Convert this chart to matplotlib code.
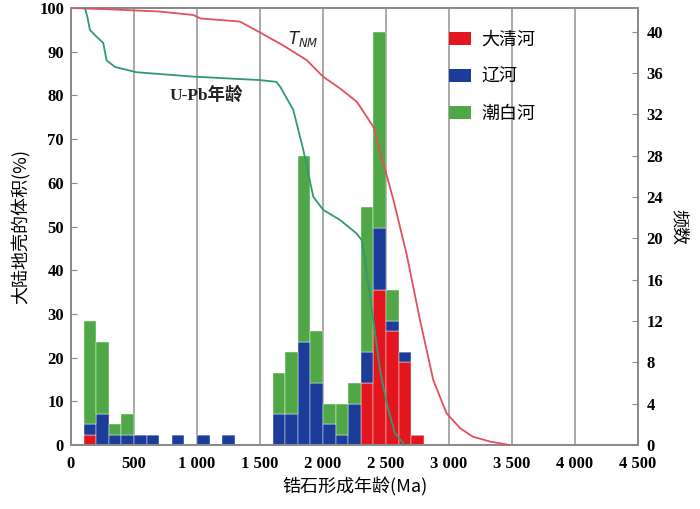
import matplotlib
matplotlib.use("Agg")
import matplotlib.pyplot as plt
from matplotlib.patches import Patch

# ---------------- data ----------------
bin_left = [100, 200, 300, 400, 500, 600, 800, 1000, 1200, 1600, 1700, 1800,
            1900, 2000, 2100, 2200, 2300, 2400, 2500, 2600, 2700]
daqing  = [1, 0, 0, 0, 0, 0, 0, 0, 0, 0, 0, 0, 0, 0, 0, 0, 6, 15, 11, 8, 1]
liao    = [1, 3, 1, 1, 1, 1, 1, 1, 1, 3, 3, 10, 6, 2, 1, 4, 3, 6, 1, 1, 0]
chaobai = [10, 7, 1, 2, 0, 0, 0, 0, 0, 4, 6, 18, 5, 2, 3, 2, 14, 19, 3, 0, 0]
series_names = ["大清河", "辽河", "潮白河"]

tnm_age = [0, 300, 700, 970, 1030, 1340, 1500, 1680, 1870, 2000, 2135, 2270,
           2400, 2480, 2560, 2665, 2770, 2875, 2980, 3090, 3190, 3325, 3480]
tnm_pct = [100, 99.7, 99.2, 98.4, 97.6, 96.9, 94.4, 91.5, 88.1, 84.3, 81.6, 78.5,
           72.8, 64.4, 56.0, 43.5, 28.6, 14.9, 7.3, 3.8, 1.9, 0.8, 0]

upb_age = [110, 130, 150, 200, 256, 283, 350, 520, 970, 1500, 1630, 1660, 1764,
           1844, 1923, 2002, 2135, 2267, 2307, 2347, 2400, 2452, 2506, 2571, 2650]
upb_pct = [100, 98, 95, 93.5, 92, 88, 86.5, 85.3, 84.3, 83.5, 83.1, 82, 76.7,
           67.5, 56.8, 53.8, 51.5, 48.4, 46.9, 39.3, 28.6, 17.2, 9.5, 2.7, 0]

xticks = [0, 500, 1000, 1500, 2000, 2500, 3000, 3500, 4000, 4500]
xticklabels = ["0", "500", "1 000", "1 500", "2 000", "2 500", "3 000", "3 500", "4 000", "4 500"]
lticks = list(range(0, 101, 10))
rticks = list(range(0, 41, 4))

# ---------------- style ----------------
c_red, c_blue, c_green = "#e3151f", "#1b3c98", "#4fa845"
c_line_red, c_line_green = "#e2505c", "#2f9a72"
spine_c = "#8a8a8a"
num_font = dict(family=["Liberation Serif", "DejaVu Serif"], size=12, weight="bold")
cjk = ["Noto Sans CJK SC", "DejaVu Sans"]
mixed = ["Liberation Serif", "Noto Sans CJK SC"]

fig = plt.figure(figsize=(7.0, 5.09), dpi=100)
ax2 = fig.add_axes([0.1014, 0.1257, 0.8100, 0.8586])   # bars (right axis)
ax = fig.add_axes(ax2.get_position(), sharex=ax2)        # lines (left axis) on top
ax.patch.set_visible(False)

# grid (behind bars)
for xv in xticks[1:-1]:
    ax2.axvline(xv, color="#a8a8a8", lw=1.4, zorder=0)

# stacked bars
bot2 = [a + b for a, b in zip(daqing, liao)]
kw = dict(width=100, align="edge", edgecolor="#ffffff", linewidth=0.3, zorder=2)
ax2.bar(bin_left, daqing, color=c_red, **kw)
ax2.bar(bin_left, liao, bottom=daqing, color=c_blue, **kw)
ax2.bar(bin_left, chaobai, bottom=bot2, color=c_green, **kw)

# lines
ax.plot(tnm_age, tnm_pct, color=c_line_red, lw=1.3, zorder=3)
ax.plot(upb_age, upb_pct, color=c_line_green, lw=1.3, zorder=3)

ax.set_xlim(0, 4500)
ax.set_ylim(0, 100)
ax2.set_ylim(0, 42.3)

# axes cosmetics
ax2.yaxis.tick_right()
ax2.yaxis.set_label_position("right")
ax2.set_yticks(rticks)
ax2.set_yticklabels([str(t) for t in rticks], **num_font)
ax2.tick_params(axis="y", direction="in", length=4, color=spine_c, pad=6)
ax2.tick_params(axis="x", bottom=False, labelbottom=False)

ax.set_yticks(lticks)
ax.set_yticklabels([str(t) for t in lticks], **num_font)
ax.set_xticks(xticks)
ax.set_xticklabels(xticklabels, **num_font)
ax.tick_params(axis="y", direction="in", length=4, color=spine_c, pad=5)
ax.tick_params(axis="x", direction="in", length=0, pad=8)
ax.yaxis.tick_left()

for a in (ax, ax2):
    for s in a.spines.values():
        s.set_color(spine_c)
        s.set_linewidth(1.3)

ax.set_xlabel("锆石形成年龄(Ma)", family=cjk, fontsize=13, labelpad=4)
ax.set_ylabel("大陆地壳的体积(%)", family=cjk, fontsize=13, labelpad=6)
ax2.set_ylabel("频数", family=cjk, fontsize=13, rotation=270, labelpad=18)

# annotations
ax.text(1070, 80, "U-Pb年龄", family=mixed, fontsize=12.5, weight="bold",
        ha="center", va="center", color="#222222")
ax.text(1720, 93.0, r"$T_{NM}$", fontsize=12, ha="left", va="center",
        color="#222222", family=["DejaVu Serif"])

# legend
handles = [Patch(facecolor=c, edgecolor="none") for c in (c_red, c_blue, c_green)]
leg = ax.legend(handles, series_names, loc="upper left",
                bbox_to_anchor=(0.638, 0.985), frameon=False,
                prop=dict(family=cjk, size=13), handlelength=1.2, handleheight=0.75,
                labelspacing=1.05, handletextpad=0.6)

fig.savefig("out.png", dpi=100)
